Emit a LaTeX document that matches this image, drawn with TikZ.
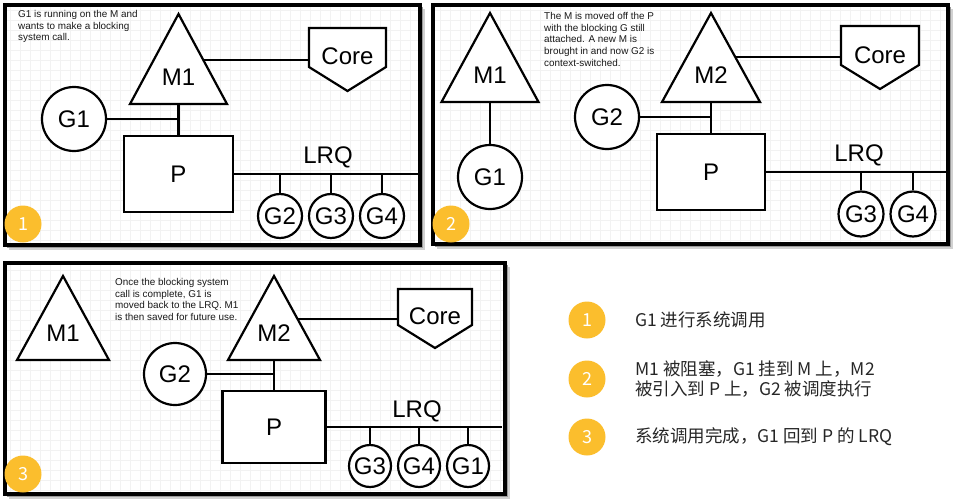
\documentclass[tikz,border=0pt]{standalone}
\usepackage{fontspec}
\setmainfont{Liberation Sans}
\newfontfamily\cjk{Noto Sans CJK SC}
\definecolor{byel}{RGB}{251,190,45}
\begin{document}
\begin{tikzpicture}[x=1pt,y=-1pt,
  frame/.style={line width=4pt,draw=black},
  gridl/.style={draw=black!5,line width=0.5pt},
  shp/.style={line width=2.2pt,draw=black,fill=white,line join=miter},
  conn/.style={line width=2.2pt},
  lbl/.style={font=\fontsize{24}{24}\selectfont,inner sep=0pt},
  gbig/.style={circle,draw,line width=2.2pt,fill=white,inner sep=0pt,font=\fontsize{24}{24}\selectfont},
  pbox/.style={rectangle,draw,line width=2.2pt,fill=white,inner sep=0pt,font=\fontsize{24}{24}\selectfont},
  badge/.style={circle,fill=byel,minimum size=37pt,inner sep=0pt,text=white,font=\cjk\fontsize{18}{18}\selectfont},
  note/.style={align=left,anchor=north west,inner sep=0pt,text=black!90,font=\fontsize{9.9}{11.8}\selectfont},
  legtxt/.style={anchor=west,align=left,inner sep=0pt,text=black!85,font=\cjk\fontsize{17.5}{19.5}\selectfont}]
\useasboundingbox (0,0) rectangle (960,503);
% ---------- panel backgrounds, shadows, grids ----------
\foreach \xa/\ya/\xb/\yb in {5/5/419.5/245, 433/5/947.5/243.5, 5/263/505/493.5}{
  \fill[black!18] (\xa+4,\ya+4) rectangle (\xb+5,\yb+5);
  \fill[black!40] (\xa+2,\ya+2) rectangle (\xb+3,\yb+3);
  \fill[white] (\xa,\ya) rectangle (\xb,\yb);
  \begin{scope}
    \clip (\xa,\ya) rectangle (\xb,\yb);
    \draw[gridl,step=10pt] (\xa,\ya) grid (\xb,\yb);
  \end{scope}
  \draw[frame] (\xa,\ya) rectangle (\xb,\yb);
}
% ================= PANEL 1 =================
\node[note] (n1) at (18,10) {G1 is running on the M and\\wants to make a blocking\\system call.};
\draw[shp] (178.5,14) -- (227,104) -- (130,104) -- cycle;
\node[lbl] (m1a) at (178.5,77) {M1};
\coordinate (m1abase) at (178.5,104);
\coordinate (m1aside) at (203.5,60);
\draw[shp] (309,28) -- (386,28) -- (386,67) -- (347.5,91) -- (309,67) -- cycle;
\node[lbl] (corea) at (347.5,56) {Core};
\coordinate (coreaw) at (309,60);
\draw[conn] (m1aside) -- (coreaw);
\node[gbig,minimum size=64pt] (g1a) at (74,119) {G1};
\node[pbox,minimum width=109pt,minimum height=76pt] (pa) at (178.5,174) {P};
\draw[conn] (g1a.east) -- (g1a.east -| m1abase);
\draw[conn] (m1abase) -- (pa.north);
\coordinate (lrqaend) at (417.5,174);
\draw[conn] (pa.east) -- (lrqaend);
\node[lbl] (lrqa) at (328,157) {LRQ};
\node[gbig,minimum size=44pt] (g2a) at (280,216) {G2};
\node[gbig,minimum size=44pt] (g3a) at (331,216) {G3};
\node[gbig,minimum size=44pt] (g4a) at (382,216) {G4};
\foreach \g in {g2a,g3a,g4a}{\draw[conn] (\g.north |- pa.east) -- (\g.north);}
\node[badge] (b1) at (23,224) {1};
% ================= PANEL 2 =================
\draw[shp] (490,13) -- (538.5,102) -- (441.5,102) -- cycle;
\node[lbl] (m1b) at (490,75) {M1};
\coordinate (m1bbase) at (490,102);
\node[gbig,minimum size=64pt] (g1b) at (490,177) {G1};
\draw[conn] (m1bbase) -- (g1b.north);
\node[note] (n2) at (544,12) {The M is moved off the P\\with the blocking G still\\attached. A new M is\\brought in and now G2 is\\context-switched.};
\draw[shp] (711,13) -- (760,102) -- (662,102) -- cycle;
\node[lbl] (m2b) at (711,75) {M2};
\coordinate (m2bbase) at (711,102);
\coordinate (m2bside) at (735.2,57);
\draw[shp] (841,26) -- (919,26) -- (919,65) -- (880,89) -- (841,65) -- cycle;
\node[lbl] (coreb) at (880,55) {Core};
\coordinate (corebw) at (841,57);
\draw[conn] (m2bside) -- (corebw);
\node[gbig,minimum size=64pt] (g2b) at (607,117) {G2};
\node[pbox,minimum width=108pt,minimum height=76pt] (pb) at (711,172) {P};
\draw[conn] (g2b.east) -- (g2b.east -| m2bbase);
\draw[conn] (m2bbase) -- (pb.north);
\coordinate (lrqbend) at (946,172);
\draw[conn] (pb.east) -- (lrqbend);
\node[lbl] (lrqb) at (859,155) {LRQ};
\node[gbig,minimum size=45pt] (g3b) at (861,214) {G3};
\node[gbig,minimum size=45pt] (g4b) at (913,214) {G4};
\foreach \g in {g3b,g4b}{\draw[conn] (\g.north |- pb.east) -- (\g.north);}
\node[badge] (b2) at (451,224) {2};
% ================= PANEL 3 =================
\draw[shp] (63,276) -- (109,360) -- (17,360) -- cycle;
\node[lbl] (m1c) at (63,333) {M1};
\node[note] (n3) at (115,278) {Once the blocking system\\call is complete, G1 is\\moved back to the LRQ. M1\\is then saved for future use.};
\draw[shp] (274,276) -- (320,360) -- (228,360) -- cycle;
\node[lbl] (m2c) at (274,333) {M2};
\coordinate (m2cbase) at (274,360);
\coordinate (m2cside) at (297.5,319);
\draw[shp] (398,289) -- (472,289) -- (472,325) -- (435,348) -- (398,325) -- cycle;
\node[lbl] (corec) at (435,316) {Core};
\coordinate (corecw) at (398,319);
\draw[conn] (m2cside) -- (corecw);
\node[gbig,minimum size=62pt] (g2c) at (175,374) {G2};
\node[pbox,minimum width=103pt,minimum height=72pt] (pc) at (274,427) {P};
\draw[conn] (g2c.east) -- (g2c.east -| m2cbase);
\draw[conn] (m2cbase) -- (pc.north);
\coordinate (lrqcend) at (502,427);
\draw[conn] (pc.east) -- (lrqcend);
\node[lbl] (lrqc) at (417,411) {LRQ};
\node[gbig,minimum size=42pt] (g3c) at (370,466) {G3};
\node[gbig,minimum size=42pt] (g4c) at (419,466) {G4};
\node[gbig,minimum size=42pt] (g1c) at (468,466) {G1};
\foreach \g in {g3c,g4c,g1c}{\draw[conn] (\g.north |- pc.east) -- (\g.north);}
\node[badge] (b3) at (23,474) {3};
% ================= LEGEND =================
\node[badge] (lb1) at (587,320) {1};
\node[badge] (lb2) at (587,379) {2};
\node[badge] (lb3) at (587,437) {3};
\node[legtxt] (lt1) at (635,320) {G1 进行系统调用};
\node[legtxt] (lt2) at (635,379) {M1 被阻塞，G1 挂到 M 上，M2\\被引入到 P 上，G2 被调度执行};
\node[legtxt] (lt3) at (635,437) {系统调用完成，G1 回到 P 的 LRQ};
\end{tikzpicture}
\end{document}
